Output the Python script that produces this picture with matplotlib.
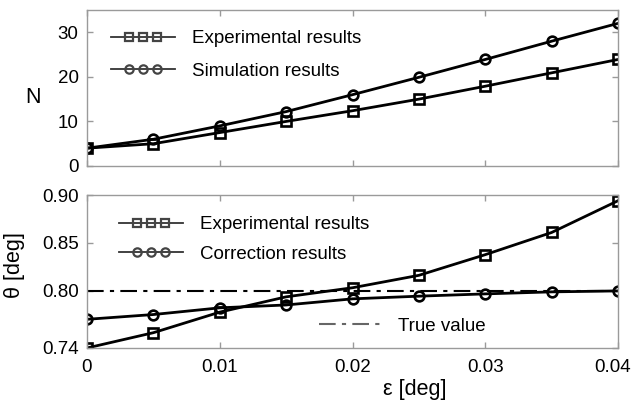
import numpy as np
import matplotlib
matplotlib.use("Agg")
import matplotlib.pyplot as plt
import matplotlib.transforms as mtransforms
from matplotlib.lines import Line2D
from matplotlib.legend_handler import HandlerLine2D

plt.rcParams['font.family'] = ['Liberation Sans', 'DejaVu Sans']

eps = [0, 0.005, 0.01, 0.015, 0.02, 0.025, 0.03, 0.035, 0.04]
n_experimental = [4, 5, 7.5, 10, 12.4, 15, 17.9, 20.9, 23.9]
n_simulation = [4, 6, 9, 12.2, 16, 19.9, 23.9, 28, 32]
theta_experimental = [0.74, 0.756, 0.7775, 0.7935, 0.803, 0.816, 0.8376, 0.8608, 0.894]
theta_correction = [0.770, 0.775, 0.782, 0.785, 0.7914, 0.7942, 0.7966, 0.7987, 0.7997]
true_value = 0.80

x_ticks = [0, 0.01, 0.02, 0.03, 0.04]
x_ticklabels = ['0', '0.01', '0.02', '0.03', '0.04']
n_ticks = [0, 10, 20, 30]
theta_ticks = [0.74, 0.80, 0.85, 0.90]
theta_ticklabels = ['0.74', '0.80', '0.85', '0.90']

FS = 13.5
SPINE = '#9a9a9a'


class ThreeMarkerHandler(HandlerLine2D):
    def create_artists(self, legend, orig_handle, xdescent, ydescent,
                       width, height, fontsize, trans):
        y = height / 2.0 - ydescent
        line = Line2D([-xdescent, -xdescent + width], [y, y],
                      color='#333333', lw=1.3)
        xs = np.linspace(-xdescent + width * 0.28, -xdescent + width * 0.72, 3)
        m = Line2D(xs, [y] * 3, ls='none', marker=orig_handle.get_marker(),
                   ms=6, mfc='none', mec='#444444', mew=1.6)
        line.set_transform(trans)
        m.set_transform(trans)
        return [line, m]


fig = plt.figure(figsize=(6.33, 4.03), dpi=100)
ax1 = fig.add_axes([87 / 633, 1 - 166 / 403, 531 / 633, 156 / 403])
ax2 = fig.add_axes([87 / 633, 1 - 348 / 403, 531 / 633, 153 / 403])

for ax in (ax1, ax2):
    for s in ax.spines.values():
        s.set_color(SPINE)
        s.set_linewidth(1.0)
    ax.tick_params(direction='in', top=True, right=True, color=SPINE,
                   length=4, width=1.0, labelsize=FS)
    ax.tick_params(axis='y', pad=6)
    ax.tick_params(axis='x', pad=8)
    ax.set_xlim(0, 0.04)
    ax.set_xticks(x_ticks)

mk = dict(ms=7, mfc='none', mec='black', mew=1.9, color='black', lw=2.0)

l1, = ax1.plot(eps, n_experimental, marker='s', **mk)
l2, = ax1.plot(eps, n_simulation, marker='o', **mk)
ax1.set_ylim(0, 35)
ax1.set_yticks(n_ticks)
ax1.set_xticklabels([])
ax1.set_ylabel('N', fontsize=FS + 2, rotation=0, va='center', ha='center')
ax1.yaxis.set_label_coords(-0.102, 0.436)
ax1.legend([l1, l2], ['Experimental results', 'Simulation results'],
           handler_map={Line2D: ThreeMarkerHandler()},
           loc='upper left', bbox_to_anchor=(0.028, 0.93), frameon=False,
           fontsize=FS, handlelength=3.4, handletextpad=0.9,
           labelspacing=0.8, borderpad=0)

ax2.axhline(true_value, color='black', lw=1.5, ls=(0, (8, 3, 2, 3)))
l3, = ax2.plot(eps, theta_experimental, marker='s', **mk)
l4, = ax2.plot(eps, theta_correction, marker='o', **mk)
ax2.set_ylim(0.74, 0.90)
ax2.set_yticks(theta_ticks)
ax2.set_yticklabels(theta_ticklabels)
ax2.set_xticklabels(x_ticklabels)
last = ax2.get_xticklabels()[-1]
last.set_transform(last.get_transform() +
                   mtransforms.ScaledTranslation(-5 / 100, 0, fig.dpi_scale_trans))
ax2.set_ylabel('θ [deg]', fontsize=FS + 2, va='center', ha='center')
ax2.yaxis.set_label_coords(-0.136, 0.54)

leg = ax2.legend([l3, l4], ['Experimental results', 'Correction results'],
                 handler_map={Line2D: ThreeMarkerHandler()},
                 loc='upper left', bbox_to_anchor=(0.043, 0.922), frameon=False,
                 fontsize=FS, handlelength=3.4, handletextpad=0.9,
                 labelspacing=0.65, borderpad=0)
ax2.add_artist(leg)
tv = Line2D([], [], color='#666666', lw=1.5, ls=(0, (8, 3, 2, 3)))
ax2.legend([tv], ['True value'], loc='lower left',
           bbox_to_anchor=(0.42, 0.026), frameon=False, fontsize=FS,
           handlelength=3.4, handletextpad=0.8, borderpad=0)

fig.text(415 / 633, 1 - 390 / 403, 'ε [deg]', fontsize=FS + 2,
         ha='center', va='center')

fig.savefig('out.png', dpi=100)
